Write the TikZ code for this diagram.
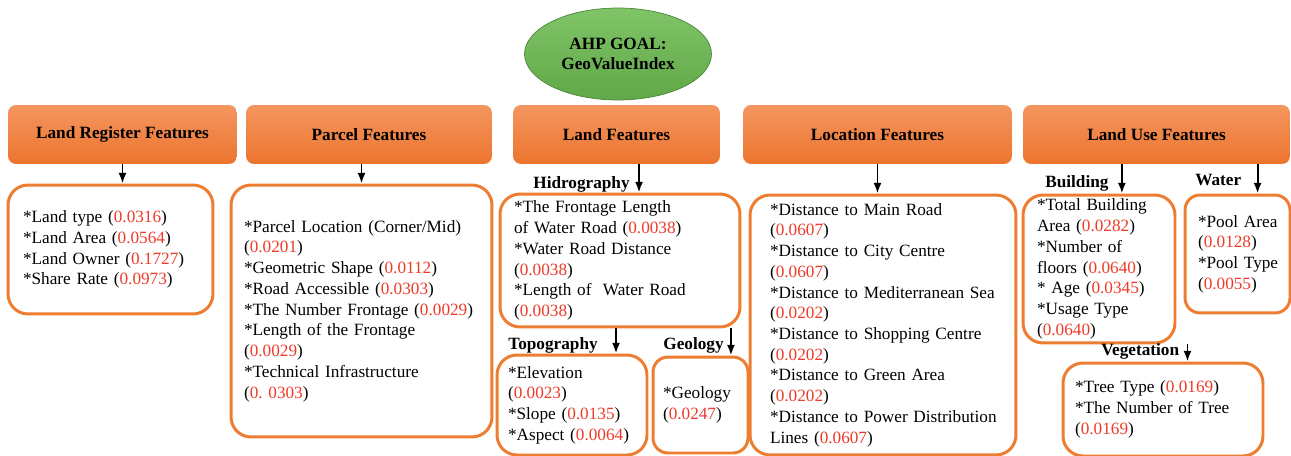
\documentclass[tikz,border=0pt]{standalone}
\usepackage{fontspec}
\setmainfont{Liberation Serif}
\usepackage{tikz}
\usetikzlibrary{shapes.geometric,arrows,arrows.meta,positioning,calc}
\usepackage{xcolor}

\definecolor{headtop}{RGB}{244,150,96}
\definecolor{headbot}{RGB}{236,116,46}
\definecolor{leafline}{RGB}{237,125,49}
\definecolor{goaltop}{RGB}{128,196,104}
\definecolor{goalbot}{RGB}{96,168,72}
\definecolor{wred}{RGB}{238,58,40}
\newcommand{\wt}[1]{(\textcolor{wred}{#1})}
\newcommand{\nl}{\\{}}
\frenchspacing

\tikzset{
  txt/.style={font=\fontsize{9.8}{11.8}\selectfont},
  goal/.style={ellipse, draw=goalbot!80!black, thin, top color=goaltop, bottom color=goalbot,
    minimum width=3.74cm, minimum height=1.84cm, align=center,
    font=\fontsize{9.8}{11.4}\selectfont\bfseries},
  head/.style={rectangle, rounded corners=0.16cm, top color=headtop, bottom color=headbot,
    minimum height=1.18cm, font=\fontsize{9.8}{11.8}\selectfont\bfseries},
  leaf/.style={rectangle, draw=leafline, line width=1.7pt, rounded corners=0.4cm,
    inner sep=0pt, align=left, txt},
  sub/.style={inner sep=0pt, font=\fontsize{9.8}{11.8}\selectfont\bfseries},
  arr/.style={-{Latex[length=6pt,width=4.5pt]}, line width=1.1pt},
}

\begin{document}
\begin{tikzpicture}[x=0.02cm,y=0.02cm]
\useasboundingbox (0,0) rectangle (1291,-456);
% goal
\node[goal] (goal) at (618,-54) {AHP GOAL:\\GeoValueIndex};
% criteria
\node[head, minimum width=4.58cm] (lrhead) at (122.5,-134.5) {Land Register Features};
\node[head, minimum width=4.92cm] (parhead) at (369,-134.5) {Parcel Features};
\node[head, minimum width=4.14cm] (landhead) at (616.5,-134.5) {Land Features};
\node[head, minimum width=5.38cm] (lochead) at (877.5,-134.5) {Location Features};
\node[head, minimum width=5.34cm] (usehead) at (1156.5,-134.5) {Land Use Features};
% sub criteria
\node[leaf, minimum width=4.10cm, minimum height=2.58cm, text width=3.5cm] (lrbox) at (110.5,-249.5)
  {*Land type \wt{0.0316}\nl*Land Area \wt{0.0564}\nl*Land Owner \wt{0.1727}\nl*Share Rate \wt{0.0973}};
\node[leaf, minimum width=5.22cm, minimum height=5.04cm, text width=4.7cm] (parbox) at (361.5,-311)
  {*Parcel Location (Corner/Mid)\nl\wt{0.0201}\nl*Geometric Shape \wt{0.0112}\nl*Road Accessible \wt{0.0303}\nl
   \mbox{*The Number Frontage \wt{0.0029}}\nl*Length of the Frontage\nl\wt{0.0029}\nl*Technical Infrastructure\nl\wt{0. 0303}};
\node[sub, anchor=base west] (hidro) at (533,-188) {Hidrography};
\node[leaf, minimum width=4.8cm, minimum height=2.66cm, text width=4.24cm] (hidrobox) at (620,-260.5)
  {*The Frontage Length\nl of Water Road \wt{0.0038}\nl*Water Road Distance\nl\wt{0.0038}\nl*Length of \ Water Road\nl\wt{0.0038}};
\node[sub, anchor=base west] (topo) at (508,-349) {Topography};
\node[leaf, minimum width=3.0cm, minimum height=2.0cm, text width=2.56cm] (topobox) at (572,-405)
  {*Elevation\nl\wt{0.0023}\nl\mbox{*Slope \wt{0.0135}}\nl\mbox{*Aspect \wt{0.0064}}};
\node[sub, anchor=base west] (geo) at (663,-349) {Geology};
\node[leaf, minimum width=1.9cm, minimum height=1.92cm, text width=1.5cm, rounded corners=0.3cm] (geobox) at (700.5,-405)
  {*Geology\nl\wt{0.0247}};
\node[leaf, minimum width=5.32cm, minimum height=5.2cm, text width=4.52cm] (locbox) at (883,-325)
  {*Distance to Main Road\nl\wt{0.0607}\nl*Distance to City Centre\nl\wt{0.0607}\nl
   \mbox{*Distance to Mediterranean Sea}\nl\wt{0.0202}\nl*Distance to Shopping Centre\nl\wt{0.0202}\nl
   *Distance to Green Area\nl\wt{0.0202}\nl\mbox{*Distance to Power Distribution}\nl Lines \wt{0.0607}};
\node[sub, anchor=base west] (bld) at (1045,-187) {Building};
\node[leaf, minimum width=3.04cm, minimum height=2.96cm, text width=2.48cm] (bldbox) at (1099,-269)
  {*Total Building\nl Area \wt{0.0282}\nl*Number of\nl floors \wt{0.0640}\nl* Age \wt{0.0345}\nl*Usage Type\nl\wt{0.0640}};
\node[sub, anchor=base west] (water) at (1195,-185) {Water};
\node[leaf, minimum width=2.1cm, minimum height=2.36cm, text width=1.58cm, rounded corners=0.3cm] (waterbox) at (1237.5,-254)
  {\mbox{*Pool Area}\nl\wt{0.0128}\nl\mbox{*Pool Type}\nl\wt{0.0055}};
\node[sub, anchor=base west] (veg) at (1101,-355) {Vegetation};
\node[leaf, minimum width=4.0cm, minimum height=1.86cm, text width=3.52cm] (vegbox) at (1163,-409.5)
  {*Tree Type \wt{0.0169}\nl*The Number of Tree\nl\wt{0.0169}};
% arrows
\coordinate (hidrox) at ([xshift=0.18cm]hidro.east);
\coordinate (topox) at ([xshift=0.36cm]topo.east);
\coordinate (geox) at ([xshift=0.14cm]geo.east);
\coordinate (bldx) at ([xshift=0.26cm]bld.east);
\coordinate (waterx) at ([xshift=0.32cm]water.east);
\coordinate (vegx) at ([xshift=0.16cm]veg.east);
\draw[arr] (lrhead.south) -- (lrhead.south |- lrbox.north);
\draw[arr] (parbox.north |- parhead.south) -- (parbox.north);
\draw[arr] (landhead.south -| hidrox) -- (hidrobox.north -| hidrox);
\draw[arr] (hidrobox.south -| topox) -- (topobox.north -| topox);
\draw[arr] (hidrobox.south -| geox) -- (geobox.north -| geox);
\draw[arr] (lochead.south) -- (lochead.south |- locbox.north);
\draw[arr] (usehead.south -| bldx) -- (bldbox.north -| bldx);
\draw[arr] (usehead.south -| waterx) -- (waterbox.north -| waterx);
\draw[arr] (bldbox.south -| vegx) -- (vegbox.north -| vegx);
\end{tikzpicture}
\end{document}
